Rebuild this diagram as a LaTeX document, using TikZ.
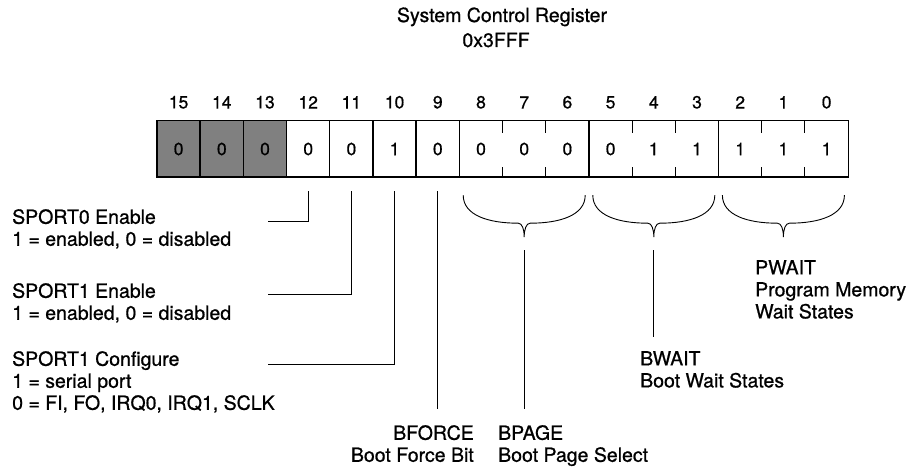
\documentclass[tikz,border=0pt]{standalone}
\usepackage{fontspec}
\setmainfont{TeX Gyre Heros}[FakeBold=0.8]
\usepackage{tikz}
\usetikzlibrary{positioning,calc}

\tikzset{grpbrace/.pic={\draw[brc] (-61,42) .. controls (-61,22) and (-36,14) .. (-6,14) .. controls (-2,14) and (0,8) .. (0,0) .. controls (0,8) and (2,14) .. (6,14) .. controls (36,14) and (61,22) .. (61,42);}}

\begin{document}
\begin{tikzpicture}[x=1pt, y=1pt, every node/.style={font=\fontsize{19.5}{22}\selectfont, inner sep=0pt}, cell/.style={minimum width=43.2pt, minimum height=56pt, font=\fontsize{17.5}{20}\selectfont}, rsv/.style={cell, fill=black!50}, bitno/.style={font=\fontsize{17.5}{20}\selectfont}, lbl/.style={align=left, anchor=north west}, lead/.style={line width=0.9pt}, brc/.style={line width=0.9pt}, regline/.style={line width=1.4pt}]
\useasboundingbox (0,0) rectangle (913,469);
\node[anchor=base] (title) at (502,447) {System Control Register};
\node[anchor=base] (addr) at (496,422) {0x3FFF};
% register cells
\foreach \i/\v/\s in {15/0/rsv,14/0/rsv,13/0/rsv,12/0/cell,11/0/cell,10/1/cell,9/0/cell,8/0/cell,7/0/cell,6/0/cell,5/0/cell,4/1/cell,3/1/cell,2/1/cell,1/1/cell,0/1/cell}
  \node[\s] (b\i) at ({157+(15.5-\i)*43.2},320) {\v};
\foreach \i in {0,...,15}
  \node[bitno, above=12pt of b\i.north] (n\i) {\i};
\draw[regline] (b15.north west) rectangle (b0.south east);
\draw[line width=2.6pt] (b15.south west) -- (b0.south east);
\foreach \i in {14,13,12,11,10,9,8,5,2}
  \draw[regline] (b\i.north west) -- (b\i.south west);
\foreach \i in {7,6,4,3,1,0}
  \draw[lead] (b\i.north west) -- ++(0,-12) (b\i.south west) -- ++(0,10);
% field labels
\node[lbl] (sport0) at (12,260) {SPORT0 Enable\\1 = enabled, 0 = disabled};
\node[lbl] (sport1en) at (12,186) {SPORT1 Enable\\1 = enabled, 0 = disabled};
\node[lbl] (sport1cf) at (12,118) {SPORT1 Configure\\1 = serial port\\0 = FI, FO, IRQ0, IRQ1, SCLK};
\node[align=right, anchor=north east] (bforce) at (474,44) {BFORCE\\Boot Force Bit};
\node[lbl] (bpage) at (498,44) {BPAGE\\Boot Page Select};
\node[lbl] (bwait) at (640,118) {BWAIT\\Boot Wait States};
\node[lbl] (pwait) at (755,209) {PWAIT\\Program Memory\\Wait States};
% leaders
\draw[lead] ([yshift=-14pt]b12.south) |- ($(sport0.north west)+(256,-12)$);
\draw[lead] ([yshift=-14pt]b11.south) |- ($(sport1en.north west)+(256,-11)$);
\draw[lead] ([yshift=-14pt]b10.south) |- ($(sport1cf.north west)+(256,-13)$);
\draw[lead] ([yshift=-14pt]b9.south) -- ($(b9.south |- bforce.north)+(0,16)$);
\pic at ($(b7.south)+(0,-60)$) {grpbrace};
\pic at ($(b4.south)+(0,-60)$) {grpbrace};
\pic at ($(b1.south)+(0,-60)$) {grpbrace};
\draw[lead] ([yshift=-73pt]b7.south) -- ($(b7.south |- bpage.north)+(0,16)$);
\draw[lead] ([yshift=-73pt]b4.south) -- ($(b4.south |- bwait.north)+(0,14)$);
\end{tikzpicture}
\end{document}
